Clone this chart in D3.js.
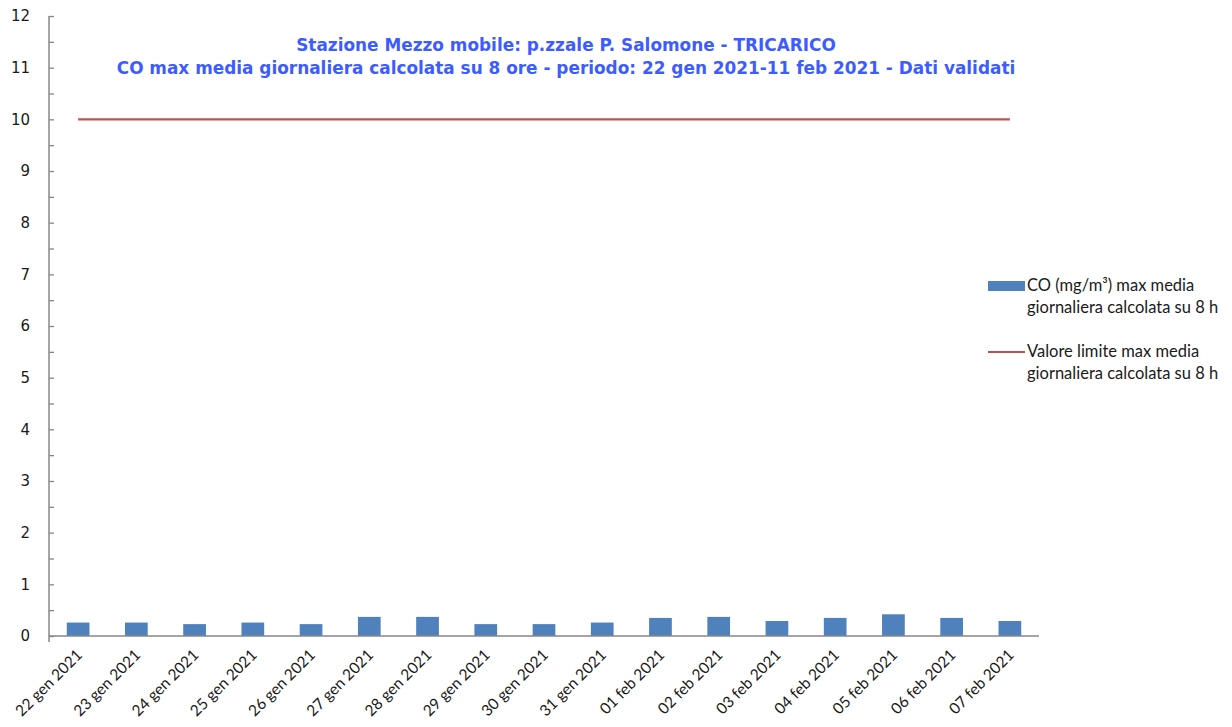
<!DOCTYPE html>
<html>
<head>
<meta charset="utf-8">
<script src="https://cdn.jsdelivr.net/npm/d3@7"></script>
<style>
  body { margin: 0; background: #fff; }
  svg { display: block; }
</style>
</head>
<body>
<svg id="chart"></svg>
<script>
const categories = [
    "22 gen 2021", "23 gen 2021", "24 gen 2021", "25 gen 2021", "26 gen 2021",
    "27 gen 2021", "28 gen 2021", "29 gen 2021", "30 gen 2021", "31 gen 2021",
    "01 feb 2021", "02 feb 2021", "03 feb 2021", "04 feb 2021", "05 feb 2021",
    "06 feb 2021", "07 feb 2021"
];
const coValues = [
    0.26, 0.26, 0.23, 0.26, 0.23, 0.37, 0.37, 0.23, 0.23, 0.26,
    0.35, 0.37, 0.29, 0.35, 0.42, 0.35, 0.29
];
const limitValues = categories.map(() => 10);
const yTicks = [0, 1, 2, 3, 4, 5, 6, 7, 8, 9, 10, 11, 12];
const titleLines = [
    "Stazione Mezzo mobile: p.zzale P. Salomone - TRICARICO",
    "CO max media giornaliera calcolata su 8 ore - periodo: 22 gen 2021-11 feb 2021 - Dati validati"
];
const legendItems = [
    { type: "bar", lines: ["CO (mg/m³) max media", "giornaliera calcolata su 8 h"] },
    { type: "line", lines: ["Valore limite max media", "giornaliera calcolata su 8 h"] }
];

const width = 1232,
    height = 727;
const plotLeft = 49,
    plotRight = 1039,
    plotTop = 16,
    plotBottom = 636;
const barColor = "#4f81bd",
    lineColor = "#c0504d",
    axisColor = "#878787";

const svg = d3.select("#chart").attr("width", width).attr("height", height);

const xScale = d3.scaleBand()
    .domain(categories)
    .range([plotLeft, plotRight])
    .paddingInner(0.61)
    .paddingOuter(0.305);
const yScale = d3.scaleLinear().domain([0, 12]).range([plotBottom, plotTop]);
const xCenter = (c) => xScale(c) + xScale.bandwidth() / 2;

// bars
svg.append("g")
    .selectAll("rect")
    .data(coValues)
    .enter()
    .append("rect")
    .attr("x", (d, i) => xScale(categories[i]))
    .attr("y", (d) => yScale(d))
    .attr("width", xScale.bandwidth())
    .attr("height", (d) => yScale(0) - yScale(d))
    .attr("fill", barColor);

// limit line
const line = d3.line()
    .x((d, i) => xCenter(categories[i]))
    .y((d) => yScale(d));
svg.append("path")
    .datum(limitValues)
    .attr("d", line)
    .attr("fill", "none")
    .attr("stroke", lineColor)
    .attr("stroke-width", 2.2);

// y axis
const yAxis = d3.axisRight(yScale)
    .tickValues(d3.range(0, 12.01, 0.5))
    .tickSize(5)
    .tickFormat("");
const yG = svg.append("g").attr("transform", `translate(${plotLeft},0)`).call(yAxis);
yG.select(".domain").remove();
yG.selectAll(".tick line").attr("stroke", axisColor).attr("stroke-width", 1.3);
svg.append("line")
    .attr("x1", plotLeft).attr("x2", plotLeft)
    .attr("y1", yScale(12)).attr("y2", yScale(0) + 6)
    .attr("stroke", axisColor).attr("stroke-width", 1.5);

svg.append("g")
    .selectAll("text")
    .data(yTicks)
    .enter()
    .append("text")
    .attr("x", 30)
    .attr("y", (d) => yScale(d))
    .attr("dy", "0.36em")
    .attr("text-anchor", "end")
    .attr("font-family", "DejaVu Sans")
    .attr("font-size", 15)
    .attr("fill", "#1a1a1a")
    .text((d) => d);

// x axis
svg.append("line")
    .attr("x1", plotLeft).attr("x2", plotRight)
    .attr("y1", plotBottom).attr("y2", plotBottom)
    .attr("stroke", axisColor).attr("stroke-width", 1.5);

svg.append("g")
    .selectAll("text")
    .data(categories)
    .enter()
    .append("text")
    .attr("transform", (d) => `translate(${xCenter(d) + 5},${plotBottom + 20}) rotate(-45)`)
    .attr("text-anchor", "end")
    .attr("font-family", "Lato")
    .attr("font-size", 15.5)
    .attr("fill", "#1a1a1a")
    .text((d) => d);

// title
svg.append("g")
    .selectAll("text")
    .data(titleLines)
    .enter()
    .append("text")
    .attr("x", 566)
    .attr("y", (d, i) => 51 + i * 23)
    .attr("text-anchor", "middle")
    .attr("font-family", "DejaVu Sans")
    .attr("font-weight", "bold")
    .attr("font-size", 16.9)
    .attr("fill", "#3d5cff")
    .text((d) => d);

// legend
const legend = svg.append("g");
legendItems.forEach((item, i) => {
    const y0 = 286 + i * 66;
    if (item.type === "bar") {
        legend.append("rect")
            .attr("x", 988).attr("y", y0 - 5)
            .attr("width", 37).attr("height", 10)
            .attr("fill", barColor);
    } else {
        legend.append("line")
            .attr("x1", 988).attr("x2", 1025)
            .attr("y1", y0).attr("y2", y0)
            .attr("stroke", lineColor).attr("stroke-width", 2.2);
    }
    item.lines.forEach((t, j) => {
        legend.append("text")
            .attr("x", 1027)
            .attr("y", y0 + 5 + j * 22)
            .attr("font-family", "Lato")
            .attr("font-size", 16.5)
            .attr("fill", "#1a1a1a")
            .text(t);
    });
});
</script>
</body>
</html>
